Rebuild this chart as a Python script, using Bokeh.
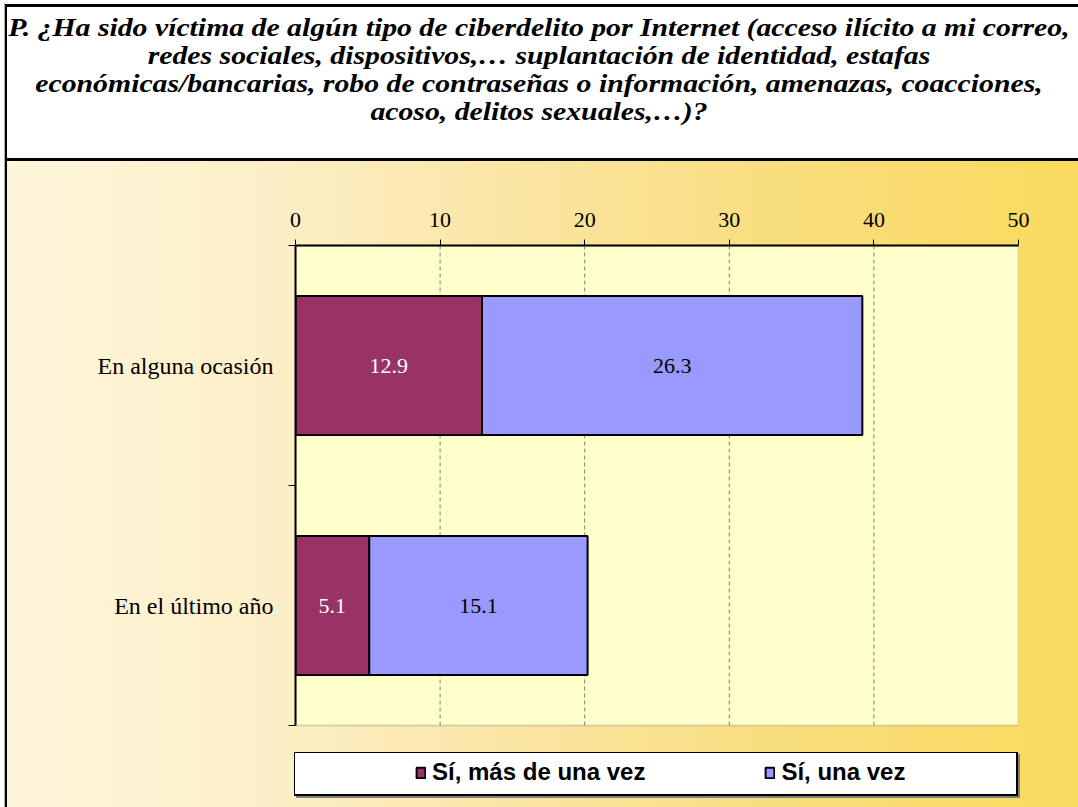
from bokeh.plotting import figure
from bokeh.layouts import column
from bokeh.models import (Range1d, FixedTicker, Legend, LegendItem, ColumnDataSource,
                          BoxAnnotation, Div)
from bokeh.core.properties import value
from bokeh.embed import file_html
from bokeh.resources import INLINE

# ---------------- data ----------------
title_lines = [
    "P. ¿Ha sido víctima de algún tipo de ciberdelito por Internet (acceso ilícito a mi correo,",
    "redes sociales, dispositivos,… suplantación de identidad, estafas",
    "económicas/bancarias, robo de contraseñas o información, amenazas, coacciones,",
    "acoso, delitos sexuales,…)?",
]
categories = ["En alguna ocasión", "En el último año"]
series_names = ["Sí, más de una vez", "Sí, una vez"]
mas_de_una_vez = [12.9, 5.1]
una_vez = [26.3, 15.1]
x_ticks = [0, 10, 20, 30, 40, 50]
colors = ["#993366", "#9999FF"]
label_colors = ["white", "black"]

SERIF = "Liberation Serif"
SANS = "Liberation Sans"
W = 1078
TITLE_H = 161
MAIN_H = 807 - TITLE_H
PLOT_TOP, PLOT_BOTTOM = 245, 725          # page pixels of the plot area
EXTRA = 807 - PLOT_BOTTOM                  # room under the plot area for the legend

# ---------------- title box ----------------
title_html = (
    '<div style="width:906px;margin-left:86px;padding-top:14px;white-space:nowrap;'
    "text-align:center;font-family:'Liberation Serif',serif;font-weight:bold;"
    'font-style:italic;font-size:25px;line-height:28px;color:#000;'
    'transform:scaleX(1.19);transform-origin:50% 0;">'
    + "<br>".join(title_lines) + "</div>"
)
title_div = Div(text=title_html, width=W, height=TITLE_H, margin=(0, 0, 0, 0),
                styles={"overflow": "hidden", "background": (
                    "linear-gradient(#ffffff,#ffffff) 7px 7px / 1071px 151px no-repeat, "
                    "linear-gradient(#000000,#000000) 5px 4px / 1073px 157px no-repeat, "
                    "linear-gradient(#b0b0b0,#b0b0b0) 4px 3px / 1px 158px no-repeat, "
                    "#ffffff")})

# ---------------- main chart ----------------
n = len(categories)
ypos = [n - i - 0.5 for i in range(n)]          # top category first
bounds = [float(i) for i in range(n + 1)]
y_start = -EXTRA / (PLOT_BOTTOM - PLOT_TOP) * n

src = ColumnDataSource(dict(y=ypos, cat=categories, mas=mas_de_una_vez, una=una_vez))

p = figure(width=W, height=MAIN_H, output_backend="svg", toolbar_location=None,
           x_range=Range1d(x_ticks[0], x_ticks[-1]), y_range=Range1d(y_start, n),
           x_axis_location="above",
           min_border_left=295, min_border_right=60, min_border_top=PLOT_TOP - TITLE_H,
           min_border_bottom=0)

p.title.visible = False
p.border_fill_color = None
p.background_fill_color = None
p.outline_line_color = None

ly = 752 - TITLE_H
p.styles = {"background": (
    f"linear-gradient(#ffffff,#ffffff) 295px {ly + 1}px / 721px 41px no-repeat, "
    f"linear-gradient(#000000,#000000) 294px {ly}px / 724px 44px no-repeat, "
    f"linear-gradient(#808080,#808080) 296px {ly + 2}px / 724px 44px no-repeat, "
    "linear-gradient(#000000,#000000) 5px 0px / 2px 100% no-repeat, "
    "linear-gradient(#b0b0b0,#b0b0b0) 4px 0px / 1px 100% no-repeat, "
    "linear-gradient(#ffffff,#ffffff) 0px 0px / 4px 100% no-repeat, "
    "linear-gradient(to right, #FEF6DC 0%, #FCEFC8 25%, #FAE4A0 50%, #F9DD7A 75%, #F9DA5E 100%)")}

# plot area
p.add_layout(BoxAnnotation(left=x_ticks[0], right=x_ticks[-1], bottom=0, top=n,
                           fill_color="#FFFFCC", fill_alpha=1,
                           line_color="#808080", line_width=2, level="underlay"))

# x axis (top)
xa = p.xaxis[0]
xa.ticker = FixedTicker(ticks=x_ticks)
xa.major_tick_out = 6
xa.major_tick_in = 0
xa.minor_tick_line_color = None
xa.axis_line_color = "black"
xa.axis_line_width = 2
xa.major_tick_line_color = "black"
xa.major_label_text_font = SERIF
xa.major_label_text_font_size = "22px"
xa.major_label_text_color = "black"
xa.major_label_standoff = 13

# y axis (left)
ya = p.yaxis[0]
ya.bounds = (0, n)
ya.ticker = FixedTicker(ticks=ypos, minor_ticks=bounds)
ya.major_label_overrides = {ypos[i]: categories[i] for i in range(n)}
ya.major_tick_line_color = None
ya.major_tick_out = 0
ya.major_tick_in = 0
ya.minor_tick_line_color = "black"
ya.minor_tick_out = 7
ya.minor_tick_in = 0
ya.axis_line_color = "black"
ya.axis_line_width = 2
ya.major_label_text_font = SERIF
ya.major_label_text_font_size = "24px"
ya.major_label_text_color = "black"
ya.major_label_standoff = 15

p.xgrid.visible = False
p.ygrid.visible = False

# vertical dashed gridlines limited to the plot area
gx = x_ticks[1:-1]
p.segment(x0=gx, y0=[0] * len(gx), x1=gx, y1=[n] * len(gx),
          line_color="#808080", line_dash="4 3", line_width=1)

# bars
rs = p.hbar_stack(["mas", "una"], y="y", height=0.58, source=src,
                  fill_color=colors, line_color="black", line_width=2)

# value labels
lab = ColumnDataSource(dict(
    x1=[v / 2 for v in mas_de_una_vez],
    x2=[a + b / 2 for a, b in zip(mas_de_una_vez, una_vez)],
    y=ypos,
    t1=[f"{v:.1f}" for v in mas_de_una_vez],
    t2=[f"{v:.1f}" for v in una_vez],
))
p.text(x="x1", y="y", text="t1", source=lab, text_align="center", text_baseline="middle",
       text_font=value(SERIF), text_font_size="22px", text_color=label_colors[0])
p.text(x="x2", y="y", text="t2", source=lab, text_align="center", text_baseline="middle",
       text_font=value(SERIF), text_font_size="22px", text_color=label_colors[1])

# legend (inside the frame, under the plot area)
legend = Legend(items=[LegendItem(label=series_names[i], renderers=[rs[i]]) for i in range(2)],
                location=(120, 21), orientation="horizontal",
                glyph_width=11, glyph_height=13, label_height=24, label_standoff=6,
                spacing=119, padding=0, margin=0,
                border_line_alpha=0, background_fill_alpha=0,
                label_text_font=SANS, label_text_font_style="bold",
                label_text_font_size="24px", label_text_color="black")
p.add_layout(legend, "center")

layout = column(title_div, p, spacing=0)
open("out.html", "w").write(file_html(layout, INLINE))
